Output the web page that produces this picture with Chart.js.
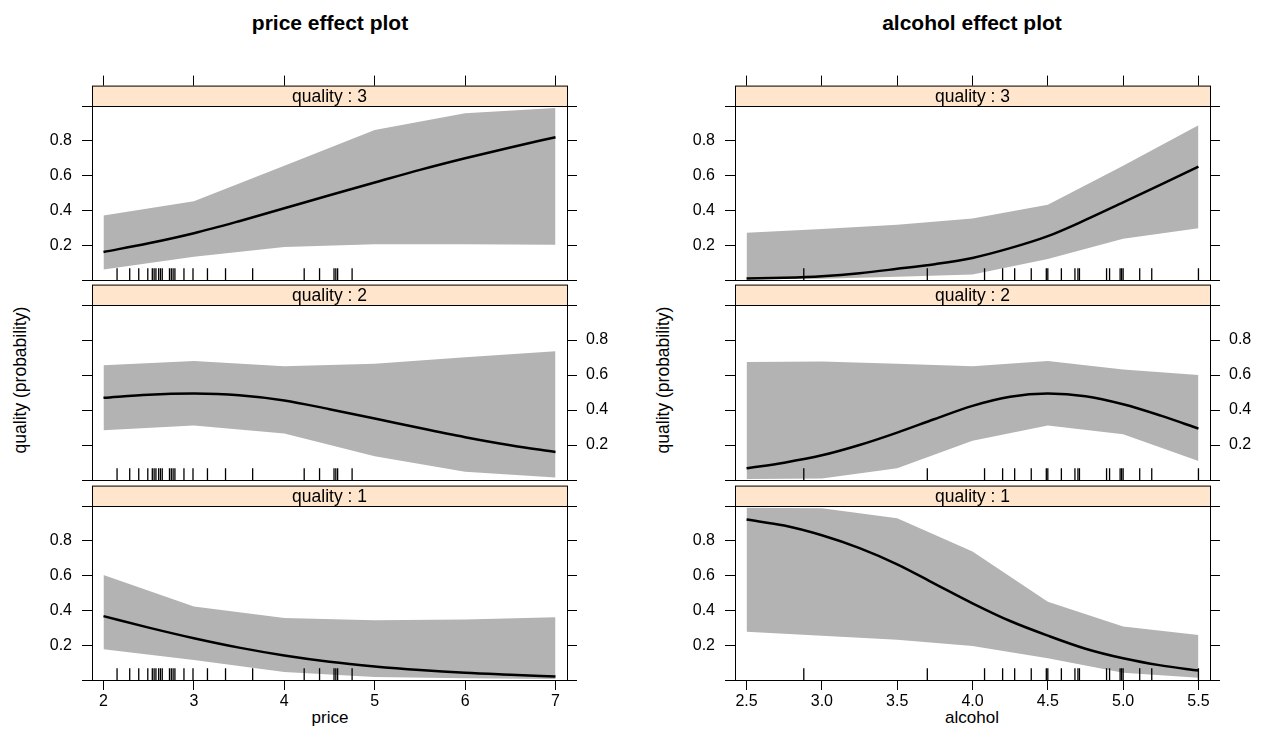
<!DOCTYPE html>
<html>
<head>
<meta charset="utf-8">
<script src="https://cdn.jsdelivr.net/npm/chart.js@4.4.1/dist/chart.umd.min.js"></script>
<style>
  body { margin: 0; background: #fff; width: 1265px; height: 755px; position: relative; overflow: hidden;
         font-family: "Liberation Sans", Arial, sans-serif; }
  canvas { position: absolute; }
  .txt { position: absolute; color: #000; white-space: nowrap; transform: translate(-50%, -50%); }
  .rot { transform: translate(-50%, -50%) rotate(-90deg); }
</style>
</head>
<body>
<div class="txt" style="left:330px;top:23px;font-size:21px;font-weight:bold">price effect plot</div>
<div class="txt" style="left:972px;top:23px;font-size:21px;font-weight:bold">alcohol effect plot</div>
<div class="txt" style="left:330px;top:718px;font-size:17px">price</div>
<div class="txt" style="left:972px;top:718px;font-size:17px">alcohol</div>
<div class="txt rot" style="left:20px;top:380px;font-size:17.5px">quality (probability)</div>
<div class="txt rot" style="left:663px;top:380px;font-size:17.5px">quality (probability)</div>

<script>
// ---- data ----
var stripLabels = ["quality : 3", "quality : 2", "quality : 1"];

// price panels
var priceTicks = [2, 3, 4, 5, 6, 7];
var priceTickLabels = ["2", "3", "4", "5", "6", "7"];
var priceGrid = [2, 3, 4, 5, 6, 7];
var priceFine = [2, 2.5, 3, 3.5, 4, 4.5, 5, 5.5, 6, 6.5, 7];

var q3PriceLower = [0.060, 0.134, 0.190, 0.205, 0.205, 0.203];
var q3PriceUpper = [0.371, 0.452, 0.657, 0.862, 0.959, 0.989];
var q3PriceFit = [0.161, 0.211, 0.269, 0.338, 0.412, 0.487, 0.560, 0.633, 0.700, 0.762, 0.821];

var q2PriceLower = [0.284, 0.312, 0.266, 0.136, 0.047, 0.015];
var q2PriceUpper = [0.656, 0.680, 0.650, 0.665, 0.702, 0.736];
var q2PriceFit = [0.470, 0.488, 0.494, 0.485, 0.455, 0.405, 0.352, 0.297, 0.245, 0.199, 0.160];

var q1PriceLower = [0.177, 0.115, 0.046, 0.017, 0.010, 0.006];
var q1PriceUpper = [0.603, 0.422, 0.357, 0.344, 0.348, 0.361];
var q1PriceFit = [0.367, 0.301, 0.240, 0.186, 0.141, 0.105, 0.078, 0.057, 0.041, 0.030, 0.020];

var priceRug = [2.15, 2.29, 2.39, 2.49, 2.54, 2.56, 2.58, 2.61, 2.63, 2.65, 2.73, 2.75,
                2.77, 2.79, 2.89, 2.99, 3.15, 3.35, 3.65, 4.22, 4.39, 4.55, 4.57, 4.59, 4.75];

// alcohol panels
var alcTicks = [2.5, 3, 3.5, 4, 4.5, 5, 5.5];
var alcTickLabels = ["2.5", "3.0", "3.5", "4.0", "4.5", "5.0", "5.5"];
var alcGrid = [2.5, 3, 3.5, 4, 4.5, 5, 5.5];
var alcFine = [2.5, 2.75, 3, 3.25, 3.5, 3.75, 4, 4.25, 4.5, 4.75, 5, 5.25, 5.5];

var q3AlcLower = [0.004, 0.007, 0.019, 0.032, 0.121, 0.237, 0.297];
var q3AlcUpper = [0.271, 0.293, 0.317, 0.353, 0.433, 0.657, 0.890];
var q3AlcFit = [0.008, 0.013, 0.022, 0.039, 0.064, 0.091, 0.127, 0.183, 0.252, 0.345, 0.446, 0.548, 0.651];

var q2AlcLower = [0.006, 0.009, 0.067, 0.225, 0.312, 0.262, 0.108];
var q2AlcUpper = [0.675, 0.677, 0.665, 0.650, 0.680, 0.632, 0.600];
var q2AlcFit = [0.067, 0.099, 0.141, 0.200, 0.271, 0.349, 0.424, 0.476, 0.494, 0.479, 0.433, 0.368, 0.294];

var q1AlcLower = [0.277, 0.255, 0.232, 0.196, 0.125, 0.041, 0.013];
var q1AlcUpper = [0.990, 0.987, 0.929, 0.739, 0.450, 0.307, 0.259];
var q1AlcFit = [0.922, 0.888, 0.832, 0.758, 0.665, 0.553, 0.441, 0.339, 0.255, 0.180, 0.125, 0.084, 0.054];

var alcRug = [2.88, 3.70, 4.08, 4.20, 4.28, 4.39, 4.49, 4.50, 4.59, 4.68, 4.70, 4.71,
              4.89, 4.91, 4.98, 4.99, 5.00, 5.11, 5.19, 5.50];

var yTicks = [0, 0.2, 0.4, 0.6, 0.8, 1];
var yTickLabels = ["", "0.2", "0.4", "0.6", "0.8", ""];

// ---- layout ----
var PANEL_H = 179, STRIP_H = 21, AREA_W = 475;
var AX_L = 70, AX_R = 50, AX_T = 14, AX_B = 40;
var stripTops = [80, 280, 480];
var colLefts = [92, 735];
var FONT = '"Liberation Sans", Arial, sans-serif';

Chart.defaults.font.family = FONT;
Chart.defaults.font.size = 16;
Chart.defaults.color = "#000";

function zip(xs, ys) {
  return xs.map(function (x, i) { return { x: x, y: ys[i] }; });
}

function fixWidth(w) { return function (s) { s.width = w; }; }
function fixHeight(h) { return function (s) { s.height = h; }; }
function useTicks(vals) {
  return function (s) { s.ticks = vals.map(function (v) { return { value: v }; }); };
}

// strip and frame, lattice style
var latticePlugin = {
  id: "lattice",
  afterDraw: function (chart) {
    var a = chart.chartArea, ctx = chart.ctx;
    var yOne = Math.round(chart.scales.y.getPixelForValue(1));
    ctx.save();
    ctx.fillStyle = "#FFE5CC";
    ctx.fillRect(a.left, a.top, a.right - a.left, yOne - a.top);
    ctx.strokeStyle = "#000";
    ctx.lineWidth = 1;
    ctx.beginPath();
    ctx.moveTo(a.left, yOne + 0.5);
    ctx.lineTo(a.right, yOne + 0.5);
    ctx.stroke();
    ctx.strokeRect(a.left + 0.5, a.top + 0.5, a.right - a.left, a.bottom - a.top);
    ctx.fillStyle = "#000";
    ctx.font = "17.5px " + FONT;
    ctx.textAlign = "center";
    ctx.textBaseline = "middle";
    ctx.fillText(chart.options.plugins.lattice.label, (a.left + a.right) / 2, (a.top + yOne) / 2 + 1);
    ctx.restore();
  }
};

function makePanel(col, row, p) {
  var cv = document.createElement("canvas");
  var w = AX_L + AREA_W + AX_R, h = AX_T + STRIP_H + PANEL_H + AX_B;
  cv.width = w; cv.height = h;
  cv.style.left = (colLefts[col] - AX_L) + "px";
  cv.style.top = (stripTops[row] - AX_T) + "px";
  cv.style.width = w + "px"; cv.style.height = h + "px";
  document.body.appendChild(cv);

  var ymax = 1 + STRIP_H / PANEL_H;
  var tickGrid = { drawOnChartArea: false, drawTicks: true, tickLength: 10, color: "#000", lineWidth: 1 };
  var noGrid = { display: false };

  // chart.js paints dataset 0 last, so the rug goes first and the band last
  return new Chart(cv, {
    type: "line",
    data: {
      datasets: [
        { type: "scatter", data: p.rug.map(function (v) { return { x: v, y: 6 / PANEL_H }; }),
          pointStyle: "line", rotation: 90, pointRadius: 6, borderColor: "#000",
          borderWidth: 1.3, showLine: false },
        { data: zip(p.fine, p.fit), borderColor: "#000", borderWidth: 2.5, pointRadius: 0,
          fill: false, cubicInterpolationMode: "monotone" },
        { data: zip(p.grid, p.lower), borderWidth: 0, pointRadius: 0, fill: false, tension: 0 },
        { data: zip(p.grid, p.upper), borderWidth: 0, pointRadius: 0, fill: "-1",
          backgroundColor: "#B3B3B3", tension: 0 }
      ]
    },
    options: {
      responsive: false,
      animation: false,
      events: [],
      layout: { padding: 0 },
      plugins: { legend: { display: false }, tooltip: { enabled: false }, lattice: { label: p.strip } },
      scales: {
        x: {
          type: "linear", position: "bottom", min: p.xmin, max: p.xmax,
          afterBuildTicks: useTicks(p.ticks), afterFit: fixHeight(AX_B),
          border: { display: false },
          grid: row === 2 ? tickGrid : noGrid,
          ticks: { display: row === 2, padding: 2, autoSkip: false, maxRotation: 0,
                   callback: function (v, i) { return p.tickLabels[i]; } }
        },
        x2: {
          type: "linear", position: "top", min: p.xmin, max: p.xmax,
          afterBuildTicks: useTicks(p.ticks), afterFit: fixHeight(AX_T),
          border: { display: false },
          grid: row === 0 ? tickGrid : noGrid,
          ticks: { display: false }
        },
        y: {
          type: "linear", position: "left", min: 0, max: ymax,
          afterBuildTicks: useTicks(yTicks), afterFit: fixWidth(AX_L),
          border: { display: false }, grid: tickGrid,
          ticks: { display: p.ySide === "left", padding: 10,
                   callback: function (v, i) { return yTickLabels[i]; } }
        },
        y2: {
          type: "linear", position: "right", min: 0, max: ymax,
          afterBuildTicks: useTicks(yTicks), afterFit: fixWidth(AX_R),
          border: { display: false }, grid: tickGrid,
          ticks: { display: p.ySide === "right", padding: 9,
                   callback: function (v, i) { return yTickLabels[i]; } }
        }
      }
    },
    plugins: [latticePlugin]
  });
}

var price = { xmin: 1.8728, xmax: 7.1272, ticks: priceTicks, tickLabels: priceTickLabels,
              grid: priceGrid, fine: priceFine, rug: priceRug };
var alc = { xmin: 2.4233, xmax: 5.5767, ticks: alcTicks, tickLabels: alcTickLabels,
            grid: alcGrid, fine: alcFine, rug: alcRug };

function panel(base, lower, upper, fit, strip, ySide) {
  return Object.assign({}, base, { lower: lower, upper: upper, fit: fit, strip: strip, ySide: ySide });
}

makePanel(0, 0, panel(price, q3PriceLower, q3PriceUpper, q3PriceFit, stripLabels[0], "left"));
makePanel(0, 1, panel(price, q2PriceLower, q2PriceUpper, q2PriceFit, stripLabels[1], "right"));
makePanel(0, 2, panel(price, q1PriceLower, q1PriceUpper, q1PriceFit, stripLabels[2], "left"));
makePanel(1, 0, panel(alc, q3AlcLower, q3AlcUpper, q3AlcFit, stripLabels[0], "left"));
makePanel(1, 1, panel(alc, q2AlcLower, q2AlcUpper, q2AlcFit, stripLabels[1], "right"));
makePanel(1, 2, panel(alc, q1AlcLower, q1AlcUpper, q1AlcFit, stripLabels[2], "left"));
</script>
</body>
</html>
